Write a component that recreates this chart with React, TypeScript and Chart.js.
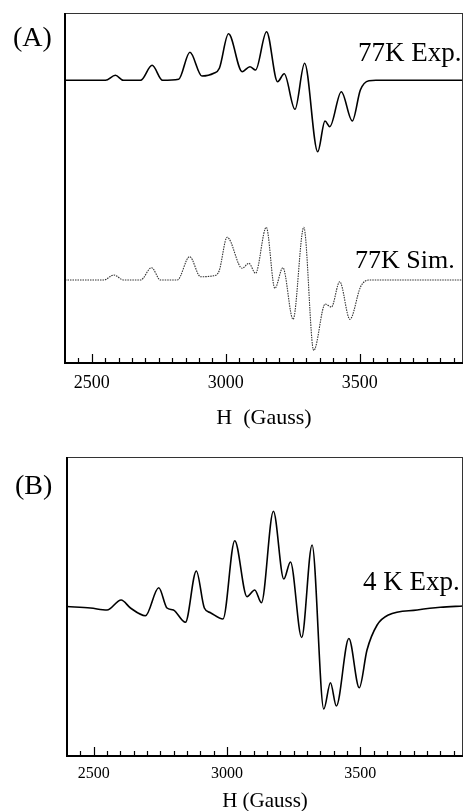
import React, { useEffect, useRef } from "react";
import { Chart, registerables } from "chart.js";

Chart.register(...registerables);

// ---- axis ----
const FIELD_MIN = 2400;
const FIELD_MAX = 3885;
const FIELD_TICKS = [2500, 3000, 3500];
const MINOR_STEP = 50;
const MAJOR_STEP = 500;

// ---- (A) 77K experimental spectrum (field in Gauss, intensity in a.u.) ----
const FIELD_A_EXP = [2400, 2551, 2588, 2618, 2682, 2725, 2764, 2824, 2866, 2911, 2955, 2976, 3010, 3061, 3090, 3111, 3152, 3193, 3218, 3258, 3294, 3343, 3370, 3388, 3431, 3472, 3502, 3534, 3560, 3885];
const INT_A_EXP = [0, 0, 5, 0, 0, 15, 0, 1, 28, 4.3, 7, 12, 46.5, 8.6, 13.6, 10.3, 48.6, -1.4, 6.5, -29, 17, -71.5, -40.7, -46.4, -11.4, -40.7, -9.7, -0.4, 0, 0];

// ---- (A) 77K simulated spectrum ----
const FIELD_A_SIM = [2400, 2545, 2582, 2619, 2682, 2723, 2756, 2819, 2865, 2906, 2955, 2975, 3005, 3061, 3086, 3111, 3151, 3183, 3213, 3251, 3291, 3328, 3371, 3394, 3425, 3463, 3503, 3534, 3885];
const INT_A_SIM = [0, 0, 5, 0, 0, 12.3, 0, 0, 23.3, 3.3, 4.3, 9, 42.7, 11.7, 16.7, 6.7, 52.7, -8.3, 12.3, -39.3, 52.7, -70.5, -24, -27, -1.7, -39.3, -6.7, 0, 0];

// ---- (B) 4K experimental spectrum ----
const FIELD_B = [2400, 2488, 2550, 2603, 2638, 2694, 2744, 2775, 2799, 2844, 2885, 2915, 2938, 2985, 3029, 3075, 3104, 3129, 3174, 3213, 3238, 3280, 3319, 3363, 3388, 3410, 3457, 3496, 3525, 3563, 3605, 3713, 3800, 3885];
const INT_B = [0, -1.5, -3.5, 6.5, -1.5, -9.2, 18.8, -1.5, -3.5, -15.8, 35.5, -1.5, -6.2, -12.5, 65.8, 9.8, 16.5, 3.8, 95.3, 27.5, 44.5, -31, 61.5, -102.5, -76.2, -99.5, -32, -81.2, -43.5, -18.5, -8.5, -3.5, -0.8, 0.5];

// vertical stacking offsets for panel A
const EXP_OFFSET_A = 282.7;
const SIM_OFFSET_A = 83;

const FONT = "'Liberation Serif', 'Times New Roman', serif";

function pts(xs: number[], ys: number[], off = 0) {
  return xs.map((x, i) => ({ x, y: ys[i] + off }));
}

function framePlugin(majorLen: number, minorLen: number) {
  return {
    id: "frameTicks",
    afterDraw(chart: any) {
      const { ctx, chartArea } = chart;
      const { left, right, top, bottom } = chartArea;
      const xs = chart.scales.x;
      ctx.save();
      ctx.strokeStyle = "#000";
      // thin top and right borders
      ctx.lineWidth = 1;
      ctx.strokeStyle = "#333";
      ctx.beginPath();
      ctx.moveTo(left, top + 0.5);
      ctx.lineTo(right, top + 0.5);
      ctx.moveTo(right - 0.5, top);
      ctx.lineTo(right - 0.5, bottom);
      ctx.stroke();
      // heavy left and bottom axes
      ctx.strokeStyle = "#000";
      ctx.lineWidth = 2;
      ctx.beginPath();
      ctx.moveTo(left, top);
      ctx.lineTo(left, bottom + 1);
      ctx.moveTo(left - 1, bottom);
      ctx.lineTo(right, bottom);
      ctx.stroke();
      // inward ticks
      ctx.lineWidth = 1.2;
      ctx.beginPath();
      const start = Math.ceil(FIELD_MIN / MINOR_STEP) * MINOR_STEP;
      for (let v = start; v <= FIELD_MAX; v += MINOR_STEP) {
        if (v === FIELD_MIN) continue;
        const px = Math.round(xs.getPixelForValue(v)) + 0.5;
        const len = v % MAJOR_STEP === 0 ? majorLen : minorLen;
        ctx.moveTo(px, bottom);
        ctx.lineTo(px, bottom - len);
      }
      ctx.stroke();
      ctx.restore();
    },
  };
}

function xScale(axisHeight: number, tickSize: number, tickPad: number, title: string, titleSize: number, titlePad: number) {
  return {
    type: "linear" as const,
    min: FIELD_MIN,
    max: FIELD_MAX,
    grid: { display: false, drawTicks: false },
    border: { display: false },
    afterBuildTicks: (s: any) => {
      s.ticks = FIELD_TICKS.map((v) => ({ value: v }));
    },
    afterFit: (s: any) => {
      s.height = axisHeight;
    },
    ticks: {
      padding: tickPad,
      color: "#000",
      maxRotation: 0,
      autoSkip: false,
      font: { family: FONT, size: tickSize },
      callback: (v: any) => String(v),
    },
    title: {
      display: true,
      text: title,
      color: "#000",
      font: { family: FONT, size: titleSize, lineHeight: 1.2 },
      padding: { top: 0, bottom: titlePad },
    },
  };
}

function PanelA() {
  const ref = useRef<HTMLCanvasElement>(null);
  useEffect(() => {
    if (!ref.current) return;
    const chart = new Chart(ref.current, {
      type: "line",
      data: {
        datasets: [
          {
            label: "77K Exp.",
            data: pts(FIELD_A_EXP, INT_A_EXP, EXP_OFFSET_A),
            borderColor: "#000",
            borderWidth: 1.6,
            pointRadius: 0,
            fill: false,
            cubicInterpolationMode: "monotone",
          },
          {
            label: "77K Sim.",
            data: pts(FIELD_A_SIM, INT_A_SIM, SIM_OFFSET_A),
            borderColor: "#333",
            borderWidth: 1.1,
            borderDash: [1.5, 1],
            pointRadius: 0,
            fill: false,
            cubicInterpolationMode: "monotone",
          },
        ],
      },
      options: {
        animation: false,
        responsive: false,
        events: [],
        layout: { padding: { left: 65, top: 13, right: 1, bottom: 0 } },
        plugins: { legend: { display: false }, tooltip: { enabled: false } },
        scales: {
          x: xScale(77, 18, 9, "H  (Gauss)", 22, 9) as any,
          y: { display: false, min: 0, max: 350 },
        },
      },
      plugins: [framePlugin(9, 5)],
    });
    return () => chart.destroy();
  }, []);
  return <canvas ref={ref} width={464} height={440} style={{ position: "absolute", left: 0, top: 0, display: "block" }} />;
}

function PanelB() {
  const ref = useRef<HTMLCanvasElement>(null);
  useEffect(() => {
    if (!ref.current) return;
    const chart = new Chart(ref.current, {
      type: "line",
      data: {
        datasets: [
          {
            label: "4 K Exp.",
            data: pts(FIELD_B, INT_B),
            borderColor: "#000",
            borderWidth: 1.6,
            pointRadius: 0,
            fill: false,
            cubicInterpolationMode: "monotone",
          },
        ],
      },
      options: {
        animation: false,
        responsive: false,
        events: [],
        layout: { padding: { left: 67, top: 27, right: 1, bottom: 0 } },
        plugins: { legend: { display: false }, tooltip: { enabled: false } },
        scales: {
          x: xScale(65, 16, 8, "H (Gauss)", 21, 6.7) as any,
          y: { display: false, min: -149.5, max: 149.5 },
        },
      },
      plugins: [framePlugin(9, 5)],
    });
    return () => chart.destroy();
  }, []);
  return <canvas ref={ref} width={464} height={391} style={{ position: "absolute", left: 0, top: 430, display: "block" }} />;
}

function Label({ text, left, cy, size }: { text: string; left: number; cy: number; size: number }) {
  return (
    <span
      style={{
        position: "absolute",
        left,
        top: cy,
        transform: "translateY(-50%)",
        fontFamily: FONT,
        fontSize: size,
        lineHeight: 1,
        whiteSpace: "nowrap",
        color: "#000",
      }}
    >
      {text}
    </span>
  );
}

export default function App() {
  return (
    <div
      style={{
        position: "fixed",
        left: 0,
        top: 0,
        width: 464,
        height: 811,
        overflow: "hidden",
        background: "#fff",
      }}
    >
      <PanelA />
      <PanelB />
      <Label text="(A)" left={13} cy={37} size={28} />
      <Label text="77K Exp." left={358} cy={52} size={27} />
      <Label text="77K Sim." left={355} cy={260} size={26} />
      <Label text="(B)" left={15} cy={485} size={28} />
      <Label text="4 K Exp." left={363} cy={581} size={27} />
    </div>
  );
}
